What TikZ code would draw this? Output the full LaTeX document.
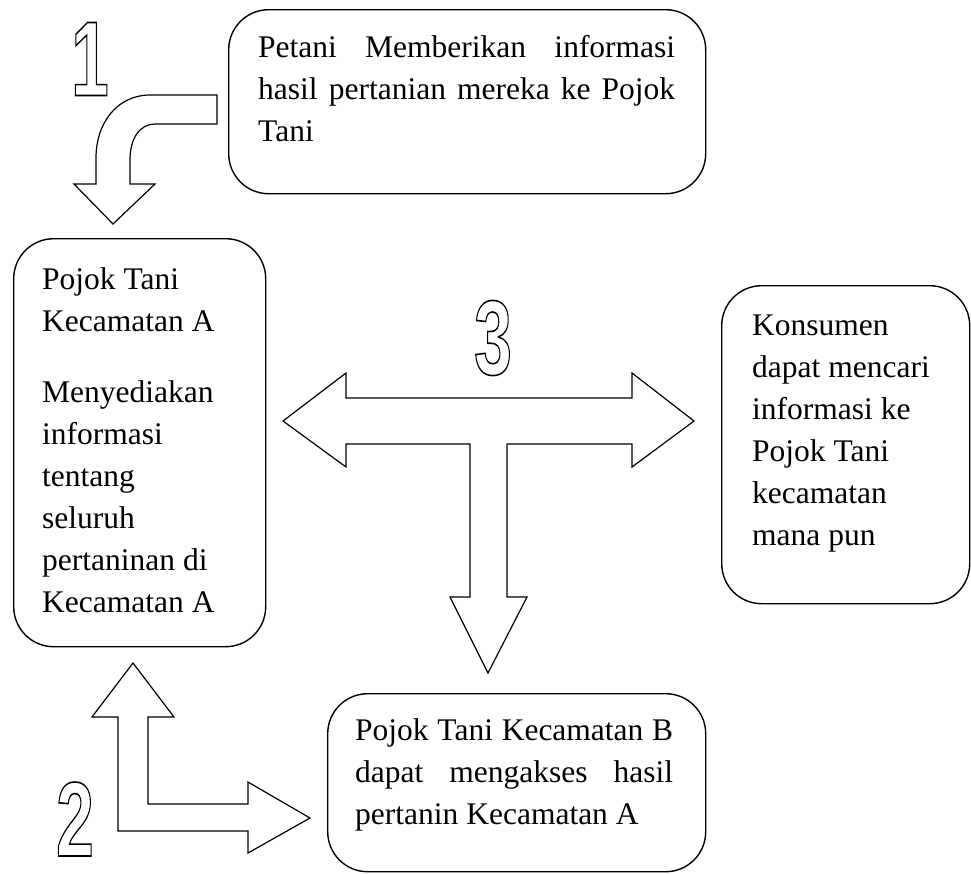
\documentclass[tikz,border=0pt]{standalone}
\usepackage{fontspec}
\setmainfont{Liberation Serif}
\newfontfamily\digitfont{Liberation Sans}
\newcommand{\outlinedigit}[3]{%
  \node[digit] (#2) at (#1) {\special{pdf:literal direct 1 Tr 1.6 w}\scalebox{0.64}[1]{#3}\special{pdf:literal direct 0 Tr}};}
\begin{document}
\begin{tikzpicture}[x=1pt,y=-1pt,
  box/.style={draw=black, line width=1.4pt, rounded corners=40pt, fill=white,
    inner sep=0pt, anchor=north west},
  txt/.style={inner sep=0pt, anchor=north west, align=left,
    font=\fontsize{31.5}{42}\selectfont},
  blockarrow/.style={draw=black, line width=1.2pt, fill=white, line join=miter},
  digit/.style={inner sep=0pt, font=\digitfont\bfseries\fontsize{106}{106}\selectfont}]
\useasboundingbox (0,0) rectangle (971,873);

% boxes
\node[box, minimum width=477pt, minimum height=184pt] (btop) at (228,9) {};
\node[box, minimum width=252pt, minimum height=408pt] (bleft) at (13,238) {};
\node[box, minimum width=248pt, minimum height=318pt] (bright) at (721,285) {};
\node[box, minimum width=378pt, minimum height=178pt] (bbottom) at (327,693) {};

% texts
\node[txt] (ttop) at (258,27) {\rule{0pt}{30pt}\hbox to 417pt{Petani\hfill Memberikan\hfill informasi}\\
  \hbox to 417pt{hasil\hfill pertanian\hfill mereka\hfill ke\hfill Pojok}\\
  Tani};
\node[txt] (tleft) at (42,259) {\rule{0pt}{30pt}Pojok Tani\\ Kecamatan A\\[29pt]
  Menyediakan\\ informasi\\ tentang\\ seluruh\\ pertaninan di\\ Kecamatan A};
\node[txt] (tright) at (752,305) {\rule{0pt}{30pt}Konsumen\\ dapat mencari\\ informasi ke\\
  Pojok Tani\\ kecamatan\\ mana pun};
\node[txt] (tbottom) at (355,710) {\rule{0pt}{30pt}\hbox to 318pt{Pojok\hfill Tani\hfill Kecamatan\hfill B}\\
  \hbox to 318pt{dapat\hfill mengakses\hfill hasil}\\
  pertanin Kecamatan A};

% arrow 1 (curved, from top box down to left box)
\draw[blockarrow] (217,95) -- (150,95) .. controls (118,95) and (96,122) .. (96,158)
  -- (96,184) -- (74,184) -- (113,224) -- (155,184) -- (130,184) -- (130,160)
  .. controls (130,138) and (140,124) .. (155,124) -- (217,124) -- cycle;

% arrow 3 (T-shaped)
\draw[blockarrow] (283,421) -- (346,373) -- (346,398) -- (632,398) -- (632,373)
  -- (694,421) -- (632,467) -- (632,444) -- (507,444) -- (507,597) -- (527,597)
  -- (488,673) -- (450,597) -- (470,597) -- (470,444) -- (346,444) -- (346,467) -- cycle;

% arrow 2 (L-shaped)
\draw[blockarrow] (133,663) -- (174,717) -- (148,717) -- (148,804) -- (248,804)
  -- (248,782) -- (310,818) -- (248,853) -- (248,831) -- (118,831) -- (118,717)
  -- (92,717) -- cycle;

% outlined numbers
\outlinedigit{90,59}{n1}{1}
\outlinedigit{493,338}{n3}{3}
\outlinedigit{75,819}{n2}{2}
\end{tikzpicture}
\end{document}
